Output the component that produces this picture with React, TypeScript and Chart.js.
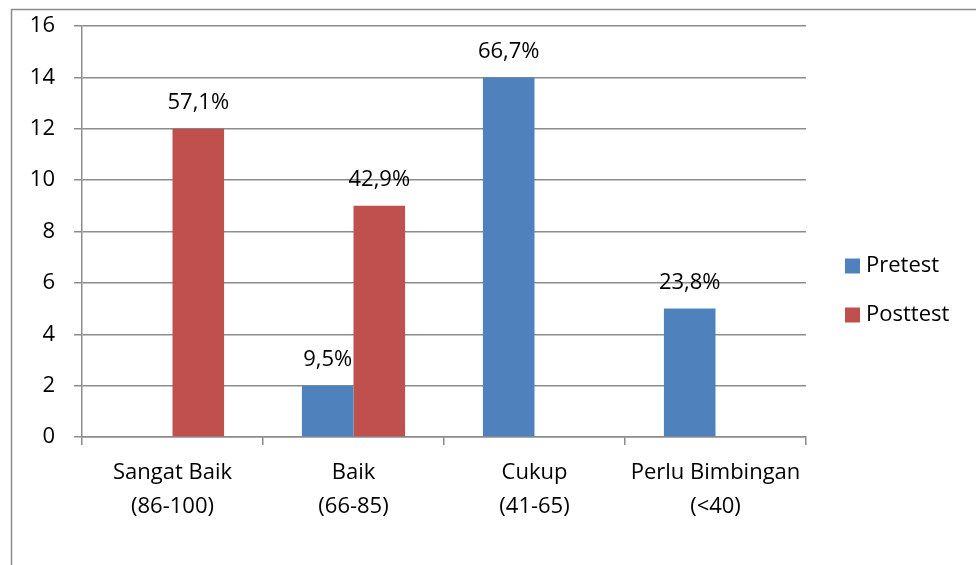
import React, { useEffect, useRef } from "react";
import { Chart, registerables } from "chart.js";

Chart.register(...registerables);

// Score categories (two-line labels)
const categories: string[][] = [
  ["Sangat Baik", "(86-100)"],
  ["Baik", "(66-85)"],
  ["Cukup", "(41-65)"],
  ["Perlu Bimbingan", "(<40)"],
];

// Number of students per category
const pretestValues = [0, 2, 14, 5];
const posttestValues = [12, 9, 0, 0];

// Percentage labels shown above the bars
const pretestLabels = ["", "9,5%", "66,7%", "23,8%"];
const posttestLabels = ["57,1%", "42,9%", "", ""];

const seriesNames = ["Pretest", "Posttest"];
const seriesColors = ["#4F81BD", "#C0504D"];

const yTicks = [0, 2, 4, 6, 8, 10, 12, 14, 16];

const FONT = "'Open Sans', 'Liberation Sans', sans-serif";
const FONT_SIZE = 22;
const GRID = "#8c8c8c";

export default function App() {
  const canvasRef = useRef<HTMLCanvasElement | null>(null);

  useEffect(() => {
    document.body.style.margin = "0";
    const canvas = canvasRef.current;
    if (!canvas) return;

    const valueLabels = [pretestLabels, posttestLabels];

    // Frame around the whole chart
    const framePlugin = {
      id: "frame",
      beforeDraw(chart: any) {
        const ctx = chart.ctx;
        ctx.save();
        ctx.fillStyle = "#ffffff";
        ctx.fillRect(0, 0, chart.width, chart.height);
        ctx.strokeStyle = "#8c8c8c";
        ctx.lineWidth = 1.5;
        ctx.beginPath();
        ctx.moveTo(11.5, chart.height + 2);
        ctx.lineTo(11.5, 9.5);
        ctx.lineTo(chart.width + 2, 9.5);
        ctx.stroke();
        ctx.restore();
      },
    };

    // Percentage text above each bar
    const valueLabelPlugin = {
      id: "valueLabels",
      afterDatasetsDraw(chart: any) {
        const ctx = chart.ctx;
        ctx.save();
        ctx.font = `${FONT_SIZE}px ${FONT}`;
        ctx.fillStyle = "#000000";
        ctx.textAlign = "center";
        ctx.textBaseline = "middle";
        chart.data.datasets.forEach((_ds: any, di: number) => {
          const meta = chart.getDatasetMeta(di);
          meta.data.forEach((bar: any, i: number) => {
            const text = valueLabels[di][i];
            if (!text) return;
            ctx.fillText(text, bar.x, bar.y - 26);
          });
        });
        ctx.restore();
      },
    };

    // Legend to the right of the plot
    const legendPlugin = {
      id: "sideLegend",
      afterDraw(chart: any) {
        const ctx = chart.ctx;
        const area = chart.chartArea;
        ctx.save();
        ctx.font = `${FONT_SIZE}px ${FONT}`;
        ctx.textAlign = "left";
        ctx.textBaseline = "middle";
        chart.data.datasets.forEach((ds: any, di: number) => {
          const cy = 266 + di * 49;
          const x = area.right + 39;
          ctx.fillStyle = ds.backgroundColor;
          ctx.fillRect(x, cy - 7.5, 15, 15);
          ctx.fillStyle = "#000000";
          ctx.fillText(ds.label, x + 21, cy);
        });
        ctx.restore();
      },
    };

    const chart = new Chart(canvas, {
      type: "bar",
      data: {
        labels: categories,
        datasets: [
          {
            label: seriesNames[0],
            data: pretestValues,
            backgroundColor: seriesColors[0],
            categoryPercentage: 0.57,
            barPercentage: 1,
          },
          {
            label: seriesNames[1],
            data: posttestValues,
            backgroundColor: seriesColors[1],
            categoryPercentage: 0.57,
            barPercentage: 1,
          },
        ],
      },
      options: {
        animation: false,
        responsive: false,
        devicePixelRatio: 1,
        layout: { padding: { top: 26, right: 170, left: 0, bottom: 0 } },
        plugins: {
          legend: { display: false },
          tooltip: { enabled: false },
        },
        scales: {
          x: {
            offset: true,
            grid: {
              offset: true,
              drawOnChartArea: false,
              drawTicks: true,
              tickLength: 8,
              color: GRID,
              lineWidth: 1.5,
            },
            border: { display: true, color: GRID, width: 1.5 },
            ticks: {
              color: "#000000",
              font: { family: FONT, size: FONT_SIZE, lineHeight: 1.55 },
              padding: 11,
              maxRotation: 0,
              autoSkip: false,
            },
            afterFit(scale: any) {
              scale.height = 128;
              scale.paddingLeft = 0;
              scale.paddingRight = 0;
            },
          },
          y: {
            min: 0,
            max: 16,
            afterBuildTicks(scale: any) {
              scale.ticks = yTicks.map((v) => ({ value: v }));
            },
            grid: {
              color: GRID,
              lineWidth: 1.5,
              drawTicks: true,
              tickLength: 8,
            },
            border: { display: true, color: GRID, width: 1.5 },
            ticks: {
              color: "#000000",
              font: { family: FONT, size: FONT_SIZE },
              padding: 19,
            },
            afterFit(scale: any) {
              scale.width = 82;
              scale.paddingTop = 0;
              scale.paddingBottom = 0;
            },
          },
        },
      },
      plugins: [framePlugin, valueLabelPlugin, legendPlugin],
    });

    return () => chart.destroy();
  }, []);

  return (
    <div style={{ position: "fixed", left: 0, top: 0, width: 976, height: 565 }}>
      <canvas ref={canvasRef} width={976} height={565} style={{ width: 976, height: 565 }} />
    </div>
  );
}
